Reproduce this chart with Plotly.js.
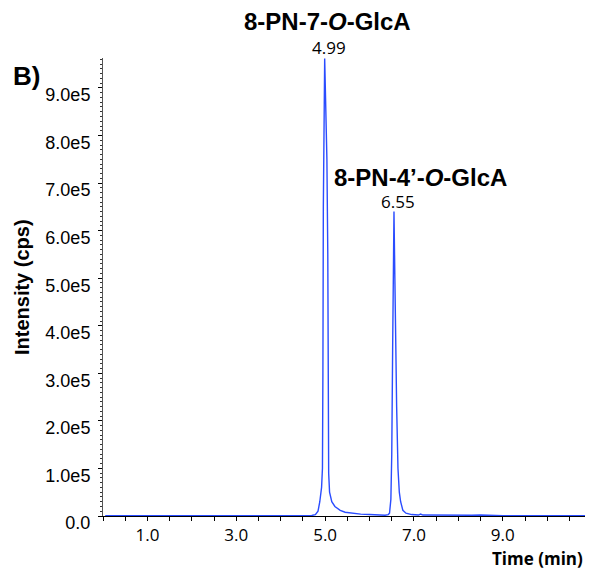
<!DOCTYPE html>
<html>
<head>
<meta charset="utf-8">
<script src="https://cdn.plot.ly/plotly-3.0.1.min.js"></script>
<style>html,body{margin:0;padding:0;background:#fff;}#chart{width:592px;height:577px;}</style>
</head>
<body>
<div id="chart"></div>
<script>
// Retention time (min)
var timeMin = [0.05,0.5,1.0,1.5,2.0,2.5,3.0,3.5,4.0,4.4,4.7,4.78,4.84,4.88,4.92,4.94,4.95,4.96,4.99,5.01,5.02,5.04,5.06,5.07,5.08,5.10,5.15,5.22,5.34,5.45,5.6,5.8,6.0,6.2,6.35,6.42,6.45,6.48,6.50,6.52,6.54,6.55,6.57,6.59,6.61,6.64,6.67,6.70,6.75,6.82,6.95,7.10,7.15,7.20,7.5,7.7,7.9,8.1,8.3,8.5,8.7,9.0,9.5,10.0,10.5,10.85];
// Intensity (cps)
var intensityCps = [500,400,500,400,500,400,500,400,500,600,1000,3000,10000,30000,60000,100000,300000,650000,962000,875000,865000,750000,550000,200000,90000,50000,30000,20000,12000,8000,6000,4000,3000,2000,1500,3000,6000,35000,130000,350000,580000,640000,500000,350000,230000,100000,50000,30000,12000,6000,3000,2000,4000,2000,1500,2000,1200,2000,1500,2000,1000,800,600,500,500,500];
// Peak annotations
var peakTimes = [4.99, 6.55];
var peakHeights = [962000, 640000];
// Axis ticks
var xTickVals = [1, 3, 5, 7, 9];
var xTickText = ["1.0", "3.0", "5.0", "7.0", "9.0"];
var yTickVals = [0,100000,200000,300000,400000,500000,600000,700000,800000,900000];
var yTickText = ["0.0","1.0e5","2.0e5","3.0e5","4.0e5","5.0e5","6.0e5","7.0e5","8.0e5","9.0e5"];

var trace = {
  x: timeMin, y: intensityCps, type: 'scatter', mode: 'lines',
  line: {color: '#2a4cff', width: 1.4}, hoverinfo: 'skip', showlegend: false
};

var annotations = [
  {text: '<b>B)</b>', xref: 'paper', yref: 'paper', x: -0.19, y: 0.96, xanchor: 'left', yanchor: 'middle', showarrow: false, font: {family: 'Liberation Sans, Arial', size: 26, color: '#000'}},
  {text: '<b>8-PN-7-<i>O</i>-GlcA</b>', xref: 'x', yref: 'paper', x: 4.99, xshift: 3, y: 1.0, yshift: 37, xanchor: 'center', yanchor: 'middle', showarrow: false, font: {family: 'Liberation Sans, Arial', size: 24, color: '#000'}},
  {text: '<b>8-PN-4’-<i>O</i>-GlcA</b>', xref: 'x', yref: 'y', x: 7.15, y: peakHeights[1], yshift: 34, xanchor: 'center', yanchor: 'middle', showarrow: false, font: {family: 'Liberation Sans, Arial', size: 24, color: '#000'}},
  {text: '<b>Time (min)</b>', xref: 'paper', yref: 'paper', x: 1.0, y: 0, yshift: -42, xanchor: 'right', yanchor: 'middle', showarrow: false, font: {family: 'Open Sans', size: 17, color: '#000'}},
  {text: '<b>Intensity (cps)</b>', xref: 'paper', yref: 'paper', x: 0, xshift: -81, y: 0.5, textangle: -90, xanchor: 'center', yanchor: 'middle', showarrow: false, font: {family: 'Liberation Sans, Arial', size: 20, color: '#000'}}
];
for (var i = 0; i < peakTimes.length; i++) {
  annotations.push({text: peakTimes[i].toFixed(2), xref: 'x', yref: 'y', x: peakTimes[i], xshift: 4, y: peakHeights[i], yshift: -3, xanchor: 'center', yanchor: 'bottom', showarrow: false, font: {family: 'Open Sans', size: 17, color: '#000'}});
}

var layout = {
  width: 592, height: 577,
  margin: {l: 103, r: 7, t: 58, b: 61},
  paper_bgcolor: '#fff', plot_bgcolor: '#fff',
  xaxis: {
    range: [0, 10.85], showgrid: false, zeroline: false,
    showline: true, linecolor: '#000', linewidth: 1,
    tickmode: 'array', tickvals: xTickVals, ticktext: xTickText,
    ticks: 'outside', ticklen: 4, tickcolor: '#000',
    minor: {dtick: 0.5, ticks: 'outside', ticklen: 4, tickcolor: '#000', showgrid: false},
    tickfont: {family: 'Open Sans', size: 17, color: '#000'}
  },
  yaxis: {
    range: [0, 963000], showgrid: false, zeroline: false,
    showline: true, linecolor: '#555', linewidth: 1,
    tickmode: 'array', tickvals: yTickVals, ticktext: yTickText,
    ticks: 'outside', ticklen: 4, tickcolor: '#000',
    minor: {dtick: 10000, ticks: 'outside', ticklen: 2, tickcolor: '#333', showgrid: false},
    ticklabelshift: 7, ticklabelstandoff: 4,
    tickfont: {family: 'Liberation Sans, Arial', size: 18, color: '#000'}
  },
  annotations: annotations
};

Plotly.newPlot('chart', [trace], layout, {staticPlot: true, displayModeBar: false});
</script>
</body>
</html>
